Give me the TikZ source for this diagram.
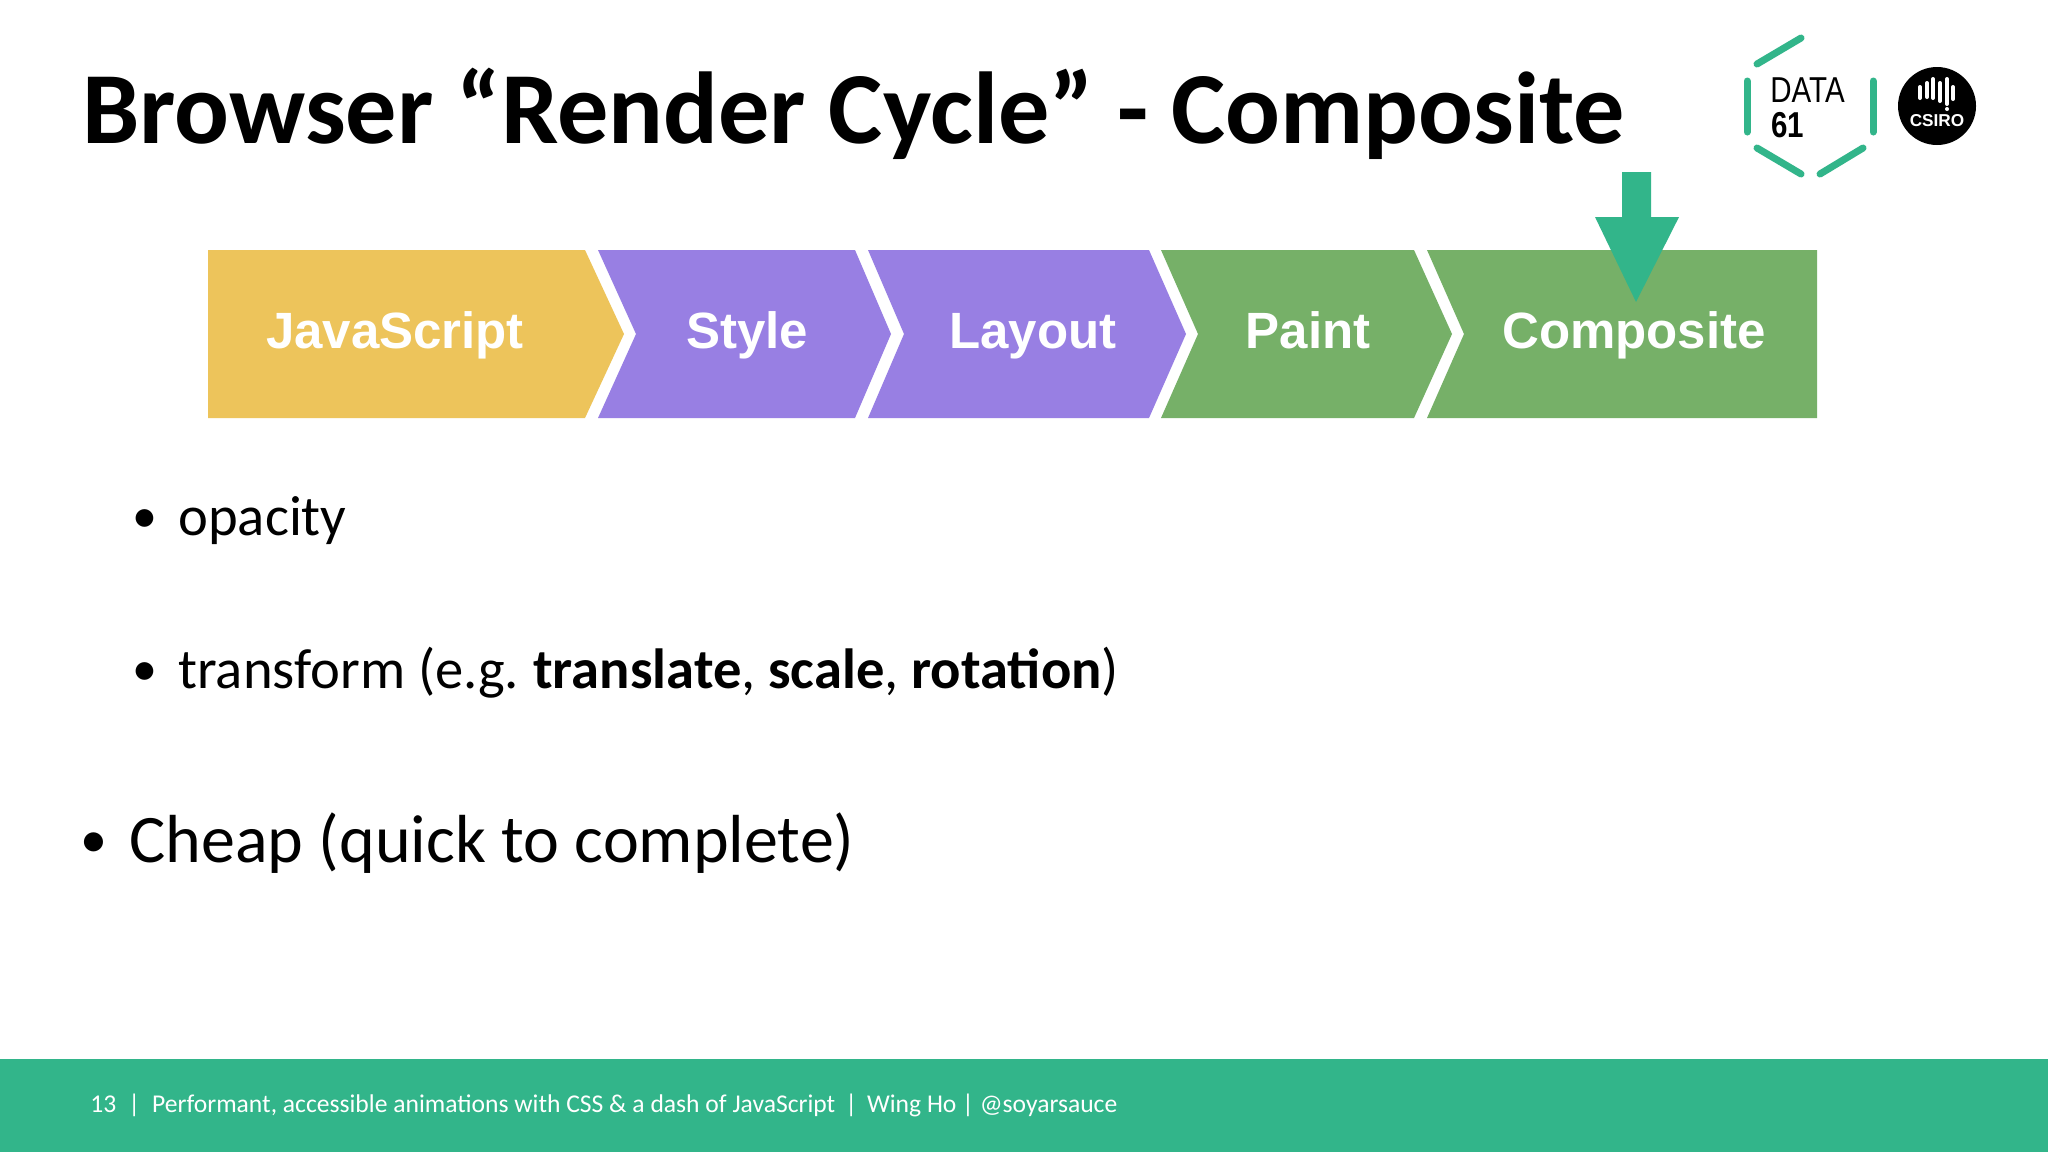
\documentclass[tikz,border=0pt]{standalone}
\usepackage{fontspec}
\setmainfont{Carlito}
\newfontfamily\chevfont{Liberation Sans}
\newfontfamily\logofont[FakeStretch=0.82]{Liberation Sans}
\usepackage{tikz}
\definecolor{teal}{HTML}{32B58A}
\definecolor{jsyellow}{HTML}{EDC45B}
\definecolor{stylepurple}{HTML}{987FE3}
\definecolor{paintgreen}{HTML}{76B068}
\tikzset{
  chevlabel/.style={anchor=base,text=white,font=\chevfont\bfseries\fontsize{25.5}{30}\selectfont},
  body/.style={anchor=base west,inner sep=0pt,font=\fontsize{28.3}{34}\selectfont},
  bigbody/.style={anchor=base west,inner sep=0pt,font=\fontsize{34}{40}\selectfont},
  hexside/.style={draw=teal,line width=3.5pt,line cap=round},
  logobar/.style={draw=white,line width=2pt,line cap=round}
}
\begin{document}
\begin{tikzpicture}[x=0.5pt,y=-0.5pt]
\useasboundingbox (0,0) rectangle (2048,1152);
\fill[white] (0,0) rectangle (2048,1152);

\node[anchor=base west,inner sep=0pt,font=\bfseries\fontsize{51.1}{60}\selectfont] (title) at (82,143) {Browser “Render Cycle” - Composite};

\fill[jsyellow] (208,250) -- (585,250) -- (624,334) -- (585,418) -- (208,418) -- cycle;
\fill[stylepurple] (598,250) -- (855,250) -- (891,334) -- (855,418) -- (598,418) -- (636,334) -- cycle;
\fill[stylepurple] (868,250) -- (1149,250) -- (1186,334) -- (1149,418) -- (868,418) -- (904,334) -- cycle;
\fill[paintgreen] (1161,250) -- (1414,250) -- (1452,334) -- (1414,418) -- (1161,418) -- (1198,334) -- cycle;
\fill[paintgreen] (1427,250) -- (1817,250) -- (1817,418) -- (1427,418) -- (1464,334) -- cycle;

\node[chevlabel] (js) at (395,348) {JavaScript};
\node[chevlabel] (style) at (747,348) {Style};
\node[chevlabel] (layout) at (1033,348) {Layout};
\node[chevlabel] (paint) at (1308,348) {Paint};
\node[chevlabel] (composite) at (1634,348) {Composite};

% arrow onto the last step
\fill[teal] (1622,172) -- (1651,172) -- (1651,217) -- (1679,217) -- (1636,302) -- (1595,217) -- (1622,217) -- cycle;

% data61 logo
\draw[hexside] (1757,64) -- (1801,38);
\draw[hexside] (1747,81) -- (1747,132);
\draw[hexside] (1873,81) -- (1873,132);
\draw[hexside] (1757,148) -- (1801,174);
\draw[hexside] (1820,174) -- (1863,148);
\node[anchor=base west,inner sep=0pt,font=\logofont\fontsize{18}{20}\selectfont] (data) at (1770,102) {DATA};
\node[anchor=base west,inner sep=0pt,font=\logofont\bfseries\fontsize{18}{20}\selectfont] (sixtyone) at (1771,137) {61};

% csiro logo
\fill[black] (1937,106) circle (39);
\draw[logobar] (1920,87) -- (1920,98);
\draw[logobar] (1927,83) -- (1927,97);
\draw[logobar] (1933,79) -- (1933,98);
\draw[logobar] (1940,83) -- (1940,101);
\draw[logobar] (1947,79) -- (1947,104);
\draw[logobar] (1953,87) -- (1953,99);
\fill[white] (1947,109) circle (2);
\node[text=white,inner sep=0pt,font=\chevfont\bfseries\fontsize{8.6}{10}\selectfont] (csiro) at (1937,121) {CSIRO};

\node[body,font=\fontsize{25}{30}\selectfont] (bulleta) at (132,532) {•};
\node[body] (opacity) at (178,535) {opacity};
\node[body,font=\fontsize{25}{30}\selectfont] (bulletb) at (132,685) {•};
\node[body] (transform) at (178,688) {transform (e.g. \hspace{-1.5pt}\textbf{translate}, \textbf{scale}, \textbf{rotation})};
\node[bigbody,font=\fontsize{27}{32}\selectfont] (bulletc) at (80,857) {•};
\node[bigbody] (cheap) at (129,862) {Cheap (quick to complete)};

\fill[teal] (0,1059) rectangle (2048,1152);
\node[anchor=base west,inner sep=0pt,text=white,font=\fontsize{12.8}{16}\selectfont] (footer) at (90,1112) {13\hspace{6pt}|\hspace{6pt}Performant, accessible animations with CSS \& a dash of JavaScript\hspace{5pt}|\hspace{5pt}Wing Ho | @soyarsauce};
\end{tikzpicture}
\end{document}
